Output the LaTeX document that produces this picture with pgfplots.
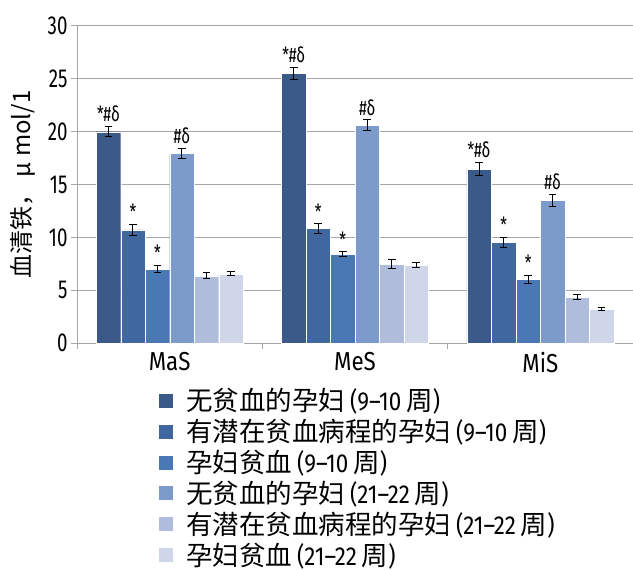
\documentclass[border=0pt]{standalone}
\usepackage{fontspec}
\setmainfont{Fira Sans}[FakeStretch=0.72]
\newfontfamily\lab{Fira Sans}[FakeStretch=0.86]
\newfontfamily\cjk{Noto Sans CJK SC}
\usepackage{pgfplots}
\usepackage{pgfplotstable}
\pgfplotsset{compat=1.18}
\definecolor{c1}{HTML}{3B5A89}
\definecolor{c2}{HTML}{41679F}
\definecolor{c3}{HTML}{4A78B5}
\definecolor{c4}{HTML}{7C9BCB}
\definecolor{c5}{HTML}{AFBCDC}
\definecolor{c6}{HTML}{CFD6E9}
\pgfplotstableread{
x y e
0 20.0 0.50
1 25.5 0.58
2 16.45 0.62
}\sA
\pgfplotstableread{
x y e
0 10.7 0.52
1 10.85 0.45
2 9.5 0.50
}\sB
\pgfplotstableread{
x y e
0 7.0 0.36
1 8.42 0.24
2 6.03 0.36
}\sC
\pgfplotstableread{
x y e
0 17.93 0.48
1 20.6 0.52
2 13.5 0.60
}\sD
\pgfplotstableread{
x y e
0 6.35 0.29
1 7.47 0.40
2 4.35 0.21
}\sE
\pgfplotstableread{
x y e
0 6.55 0.17
1 7.37 0.25
2 3.2 0.16
}\sF
\newcommand\lt[1]{{\lab\fontsize{26}{30}\selectfont #1}}
\pgfplotsset{
  errstyle/.style={error bars/.cd, y dir=both, y explicit,
    error bar style={black, line width=1pt},
    error mark options={rotate=90, black, mark size=3.8pt, line width=1pt}, /pgfplots/.cd},
  ann/.style={nodes near coords={#1},
    visualization depends on={\thisrow{e}\as\err},
    every node near coord/.append style={font=\fontsize{21}{24}\selectfont, text=black, yshift={\err*10.567pt+1pt}}},
}
\begin{document}
\begin{tikzpicture}
\begin{axis}[name=ax,
  scale only axis, width=556pt, height=317pt,
  ymin=0, ymax=30, xmin=-0.5, xmax=2.5,
  ytick={0,5,...,30},
  xtick={-0.5,0.5,1.5,2.5}, x tick label as interval,
  xticklabels={MaS,MeS,MiS},
  axis x line*=bottom, axis y line*=left,
  axis line style={draw=gray!70, line width=1pt},
  ymajorgrids, grid style={draw=gray!70, line width=1pt},
  tick align=outside, major tick length=6pt,
  tick style={draw=gray!70, line width=1pt},
  /pgf/number format/assume math mode=true,
  yticklabel style={font=\fontsize{26}{30}\selectfont},
  xticklabel style={font=\lab\fontsize{26}{30}\selectfont},
  ylabel={\cjk 血清铁， μ mol/1},
  ylabel style={font=\fontsize{24}{28}\selectfont, at={(axis description cs:-0.097,0.5)}, anchor=center},
  ybar, bar width=24.5pt,
  legend style={at={(axis description cs:0.1457,-0.137)}, anchor=north west, draw=none, fill=none, inner sep=0pt,
    font=\fontsize{26.5}{30}\selectfont, row sep=3pt, column sep=10.5pt},
  legend cell align=left,
  legend image code/.code={\fill[#1] (0pt,-7.5pt) rectangle (15pt,7.5pt);},
]
\addplot[fill=c1, draw=white, line width=0.3pt, bar shift=-61.25pt, ann={*\#δ}, errstyle] table[x=x,y=y,y error=e]{\sA};
\addlegendentry{{\cjk 无贫血的孕妇} \lt{(9–10} {\cjk 周}\lt{)}}
\addplot[fill=c2, draw=white, line width=0.3pt, bar shift=-36.75pt, ann={*}, errstyle] table[x=x,y=y,y error=e]{\sB};
\addlegendentry{{\cjk 有潜在贫血病程的孕妇} \lt{(9–10} {\cjk 周}\lt{)}}
\addplot[fill=c3, draw=white, line width=0.3pt, bar shift=-12.25pt, ann={*}, errstyle] table[x=x,y=y,y error=e]{\sC};
\addlegendentry{{\cjk 孕妇贫血} \lt{(9–10} {\cjk 周}\lt{)}}
\addplot[fill=c4, draw=white, line width=0.3pt, bar shift=12.25pt, ann={\#δ}, errstyle] table[x=x,y=y,y error=e]{\sD};
\addlegendentry{{\cjk 无贫血的孕妇} \lt{(21–22} {\cjk 周}\lt{)}}
\addplot[fill=c5, draw=white, line width=0.3pt, bar shift=36.75pt, errstyle] table[x=x,y=y,y error=e]{\sE};
\addlegendentry{{\cjk 有潜在贫血病程的孕妇} \lt{(21–22} {\cjk 周}\lt{)}}
\addplot[fill=c6, draw=white, line width=0.3pt, bar shift=61.25pt, errstyle] table[x=x,y=y,y error=e]{\sF};
\addlegendentry{{\cjk 孕妇贫血} \lt{(21–22} {\cjk 周}\lt{)}}
\end{axis}
\pgfresetboundingbox
\path[use as bounding box] ([xshift=-77pt,yshift=-226pt]ax.south west) rectangle ([yshift=26pt]ax.north east);
\end{tikzpicture}
\end{document}
